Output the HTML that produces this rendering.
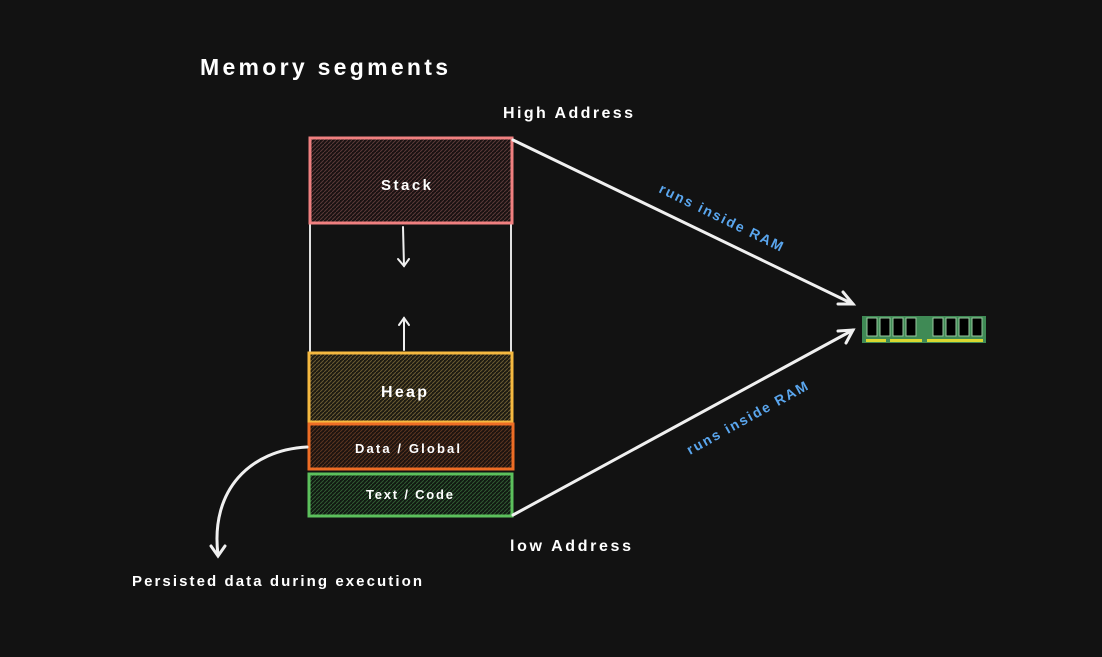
<!DOCTYPE html>
<html><head><meta charset="utf-8"><style>
html,body{margin:0;padding:0;background:#121212;}
svg text{font-family:"Liberation Sans",sans-serif;}
</style></head><body>
<svg width="1102" height="652" viewBox="0 0 1102 652" xmlns="http://www.w3.org/2000/svg">
<defs>
<pattern id="hs" width="4" height="4" patternUnits="userSpaceOnUse"><rect width="4" height="4" fill="#1a1212"/><path d="M0 4L4 0" stroke="#5a3a38" stroke-width="1"/></pattern>
<pattern id="hh" width="4" height="4" patternUnits="userSpaceOnUse"><rect width="4" height="4" fill="#1e1b12"/><path d="M0 4L4 0" stroke="#6a5a32" stroke-width="1"/></pattern>
<pattern id="hd" width="4" height="4" patternUnits="userSpaceOnUse"><rect width="4" height="4" fill="#1e1410"/><path d="M0 4L4 0" stroke="#5a3520" stroke-width="1"/></pattern>
<pattern id="ht" width="4" height="4" patternUnits="userSpaceOnUse"><rect width="4" height="4" fill="#111a12"/><path d="M0 4L4 0" stroke="#2f5a32" stroke-width="1"/></pattern>
</defs>
<rect width="1102" height="652" fill="#121212"/>
<text x="200" y="75" fill="#fff" font-size="23" font-weight="bold" textLength="248" lengthAdjust="spacing">Memory segments</text>
<text x="503" y="118" fill="#fff" font-size="16" font-weight="bold" textLength="130" lengthAdjust="spacing">High Address</text>
<text x="510" y="551" fill="#fff" font-size="16" font-weight="bold" textLength="121" lengthAdjust="spacing">low Address</text>
<text x="132" y="586" fill="#fff" font-size="15" font-weight="bold" textLength="290" lengthAdjust="spacing">Persisted data during execution</text>
<line x1="310" y1="223" x2="310" y2="353" stroke="#e0e0e0" stroke-width="2"/>
<line x1="511" y1="223" x2="511" y2="353" stroke="#e0e0e0" stroke-width="2"/>
<rect x="310" y="138" width="202" height="85" fill="url(#hs)" stroke="#f08080" stroke-width="3"/>
<rect x="309" y="353" width="203" height="69" fill="url(#hh)" stroke="#f5b940" stroke-width="3"/>
<rect x="309" y="424" width="204" height="45" fill="url(#hd)" stroke="#ee6d25" stroke-width="3"/>
<rect x="309" y="474" width="203" height="42" fill="url(#ht)" stroke="#5cc05c" stroke-width="3"/>
<text x="381" y="190" fill="#fff" font-size="15" font-weight="bold" textLength="50" lengthAdjust="spacing">Stack</text>
<text x="381" y="397" fill="#fff" font-size="16" font-weight="bold" textLength="46" lengthAdjust="spacing">Heap</text>
<text x="355" y="453" fill="#fff" font-size="13" font-weight="bold" textLength="105" lengthAdjust="spacing">Data / Global</text>
<text x="366" y="499" fill="#fff" font-size="13" font-weight="bold" textLength="87" lengthAdjust="spacing">Text / Code</text>
<g stroke="#f0f0f0" stroke-width="2" fill="none" stroke-linecap="round">
<line x1="403" y1="227" x2="404" y2="266"/><path d="M398 259L404 266L409 259"/>
<line x1="404" y1="350" x2="404" y2="318"/><path d="M399 325L404 318L409 325"/>
<line x1="513" y1="140" x2="853" y2="304" stroke-width="3"/><path d="M838 304L853 304L843 292" stroke-width="3"/>
<line x1="513" y1="515" x2="853" y2="330" stroke-width="3"/><path d="M838 331L853 330L846 343" stroke-width="3"/>
<path d="M307 447C250 450 210 490 218 555" stroke-width="3"/><path d="M211 546L218 556L225 546" stroke-width="3"/>
</g>
<text transform="translate(658,192) rotate(26)" fill="#5aa6ee" font-size="14" font-weight="bold" textLength="136" lengthAdjust="spacing">runs inside RAM</text>
<text transform="translate(690,455) rotate(-29)" fill="#5aa6ee" font-size="14" font-weight="bold" textLength="136" lengthAdjust="spacing">runs inside RAM</text>
<g>
<rect x="862" y="316" width="124" height="27" fill="#3f8a55"/>
<g fill="#000" stroke="#9ac9a0" stroke-width="1">
<rect x="867" y="318" width="10" height="18"/><rect x="880" y="318" width="10" height="18"/><rect x="893" y="318" width="10" height="18"/><rect x="906" y="318" width="10" height="18"/>
<rect x="933" y="318" width="10" height="18"/><rect x="946" y="318" width="10" height="18"/><rect x="959" y="318" width="10" height="18"/><rect x="972" y="318" width="10" height="18"/>
</g>
<rect x="866" y="339" width="20" height="3" fill="#d8d830"/><rect x="890" y="339" width="32" height="3" fill="#d8d830"/><rect x="927" y="339" width="56" height="3" fill="#d8d830"/>
</g>
</svg>
</body></html>
